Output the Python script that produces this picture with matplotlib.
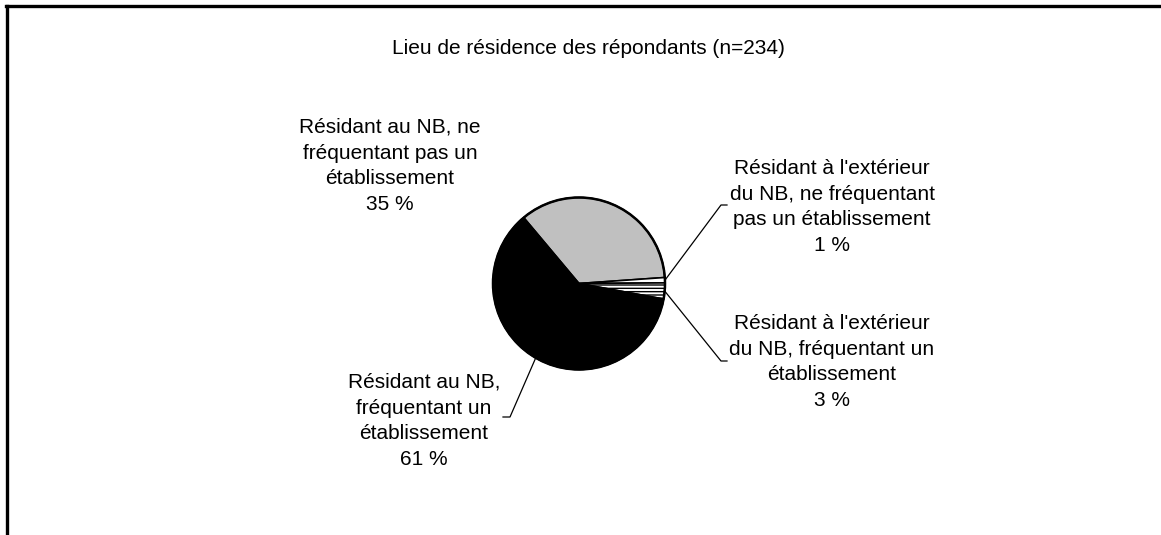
import numpy as np
import matplotlib
matplotlib.use("Agg")
import matplotlib.pyplot as plt
from matplotlib.lines import Line2D

plt.rcParams['font.family'] = ['Liberation Sans', 'DejaVu Sans']

# data
title = "Lieu de résidence des répondants (n=234)"
categories = [
    "Résidant au NB, ne\nfréquentant pas un\nétablissement",
    "Résidant à l'extérieur\ndu NB, ne fréquentant\npas un établissement",
    "Résidant à l'extérieur\ndu NB, fréquentant un\nétablissement",
    "Résidant au NB,\nfréquentant un\nétablissement",
]
percents = [35, 1, 3, 61]
colors = ['#c0c0c0', 'white', 'white', 'black']
hatches = [None, None, '-----', None]

W, H = 1161, 535
fig = plt.figure(figsize=(W / 100, H / 100), dpi=100)
ax = fig.add_axes([0, 0, 1, 1])

# pie, centre and radius in pixel units
cx, cy, r = 579, H - 283.5, 86
wedges, _ = ax.pie(percents, colors=colors, startangle=130, counterclock=False,
                   center=(cx, cy), radius=r, frame=True,
                   wedgeprops=dict(edgecolor='black', linewidth=1.2))
for w, h in zip(wedges, hatches):
    if h:
        w.set_hatch(h)
ax.set_xlim(0, W)
ax.set_ylim(0, H)
ax.set_aspect('equal')
ax.axis('off')

# outline of the pie
circ = plt.Circle((cx, cy), r, fill=False, edgecolor='black', linewidth=1.8, zorder=5)
ax.add_patch(circ)

ax.text(588, H - 54, title, ha='center', va='baseline', fontsize=15)

# label positions (pixels from top) and elbow of leader line
label_pos = [(390, 166), (832, 207), (832, 362), (424, 421)]
elbows = [None, (721, 205, 727), (721, 361, 727), (510, 417, 503)]

for i, (txt, p) in enumerate(zip(categories, percents)):
    lx, ly = label_pos[i]
    ax.text(lx, H - ly, f"{txt}\n{p} %", ha='center', va='center',
            fontsize=15, linespacing=1.45)
    if elbows[i] is not None:
        w = wedges[i]
        mid = np.deg2rad((w.theta1 + w.theta2) / 2)
        sx, sy = cx + r * np.cos(mid), cy + r * np.sin(mid)
        ex, ey, hx = elbows[i]
        ax.plot([sx, ex, hx], [sy, H - ey, H - ey], color='black', lw=0.9, zorder=6)

# chart frame (top and left edges visible)
fig.add_artist(Line2D([6 / W, 1], [1 - 6 / H, 1 - 6 / H], color='black', lw=2.4,
                      transform=fig.transFigure))
fig.add_artist(Line2D([7 / W, 7 / W], [0, 1 - 6 / H], color='black', lw=2.4,
                      transform=fig.transFigure))

fig.savefig("out.png", dpi=100, facecolor='white')
